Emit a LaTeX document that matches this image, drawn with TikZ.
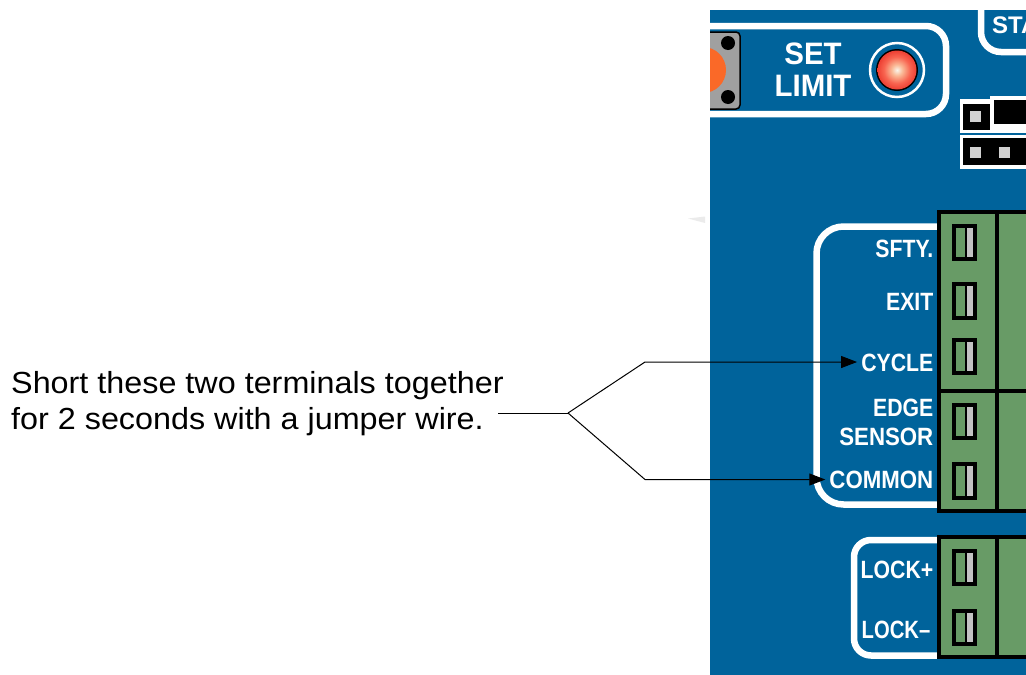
\documentclass[tikz,border=0pt]{standalone}
\usepackage{fontspec}
\setmainfont{Liberation Sans}
\newfontfamily\lblfont[FakeStretch=0.85]{Liberation Sans}
\newfontfamily\lblwfont[FakeStretch=0.89]{Liberation Sans}
\newfontfamily\lblnfont[FakeStretch=0.81]{Liberation Sans}
\newfontfamily\bigfont[FakeStretch=0.95]{Liberation Sans}
\newfontfamily\notefont[FakeStretch=1.06]{Liberation Sans}
\usetikzlibrary{arrows.meta}
\definecolor{panel}{RGB}{0,99,155}
\definecolor{plug}{RGB}{104,155,102}
\definecolor{pincol}{RGB}{195,195,195}
\definecolor{btngray}{RGB}{160,160,160}
\definecolor{btnorange}{RGB}{250,105,40}
\definecolor{ledA}{RGB}{250,245,235}
\definecolor{ledB}{RGB}{250,185,150}
\definecolor{ledC}{RGB}{248,100,80}
\definecolor{ledD}{RGB}{232,50,40}
\pgfdeclareradialshading{ledglow}{\pgfpoint{0bp}{0bp}}{
  color(0bp)=(ledA);
  color(7bp)=(ledB);
  color(17bp)=(ledC);
  color(28bp)=(ledD);
  color(50bp)=(ledD)}
\tikzset{
  frameline/.style={draw=white, line width=6.5pt, rounded corners=#1},
  strip/.style={draw=black, line width=4pt, fill=plug},
  slot/.style={draw=black, line width=4pt, fill=plug},
  lbl/.style={font=\lblfont\bfseries\fontsize{25}{25}\selectfont, text=white, anchor=east, inner sep=0.5pt},
  lblw/.style={lbl, font=\lblwfont\bfseries\fontsize{25}{25}\selectfont},
  lbln/.style={lbl, font=\lblnfont\bfseries\fontsize{25}{25}\selectfont},
  bigtxt/.style={font=\bigfont\bfseries\fontsize{31}{31}\selectfont, text=white, align=center, inner sep=0pt},
  note/.style={font=\notefont\fontsize{30.5}{36}\selectfont, align=left, anchor=west, inner sep=0pt},
  leader/.style={draw=black, line width=1pt},
  leadarrow/.style={leader, shorten >=3.5pt, -{Triangle[length=16pt,width=12pt]}}
}
\begin{document}
\begin{tikzpicture}[x=1pt,y=-1pt]
  \useasboundingbox (0,0) rectangle (1026,675);
  \fill[panel] (710,10) rectangle (1026,675);
  \fill[black!8] (688,218.5) -- (705,216.5) -- (705,223) -- cycle;
  \begin{scope}
    \clip (710,10) rectangle (1026,675);
    % set limit
    \draw[frameline=20pt] (690,26) -- (946,26) -- (946,114) -- (690,114);
    \draw[black, line width=1.5pt, fill=btngray, rounded corners=4pt] (690,32) rectangle (740,109);
    \fill[btnorange] (703,70) circle (23);
    \fill[black] (728,43) circle (7) (728,97) circle (7);
    \node[bigtxt] (setlimit) at (813,70) {SET\\[1pt]LIMIT};
    \draw[white, line width=2.5pt] (897,70) circle (27);
    \fill[black] (897,70) circle (21);
    \shade[shading=ledglow] (897,70) circle (19.5);
    % start box
    \draw[frameline=20pt] (981,0) -- (981,52) -- (1040,52);
    \node[bigtxt, font=\bfseries\fontsize{24}{24}\selectfont, anchor=west] (start) at (992,25) {STA};
    % jumpers
    \fill[white] (960,99) rectangle (1030,169);
    \fill[white] (990,96) rectangle (1030,128);
    \fill[panel] (960,132.5) rectangle (1030,134.5);
    \fill[black] (963,104) rectangle (990,130);
    \fill[black] (994,100) rectangle (1030,124);
    \fill[black] (963,138) rectangle (1030,165);
    \fill[white!82!black] (969.5,110.5) rectangle (981,122);
    \foreach \x in {975,1004}
      \fill[white!82!black] (\x-5.5,146.5) rectangle (\x+5.5,157.5);
    % white frames round the labels
    \draw[frameline=27pt] (950,226.5) -- (816.5,226.5) -- (816.5,504.5) -- (950,504.5);
    \draw[frameline=17pt] (950,540) -- (854,540) -- (854,655.5) -- (950,655.5);
    % plugs
    \draw[strip] (939,212) rectangle (1040,391);
    \draw[strip] (939,391) rectangle (1040,511);
    \draw[strip] (939,537) rectangle (1040,657);
    \draw[black, line width=4pt] (996.5,212) -- (996.5,511) (996.5,537) -- (996.5,657);
    \foreach \yt/\yb in {226/259, 284/318, 340/373, 405/438, 464/498, 551/584, 611/644}{
      \draw[slot] (954,\yt) rectangle (974.5,\yb);
      \fill[pincol] (966.5,\yt+2) rectangle (972.5,\yb-2);
      \draw[black, line width=2pt] (966,\yt) -- (966,\yb);
    }
  \end{scope}
  % labels
  \foreach \id/\y/\name/\sty in {sfty/249/SFTY./lbl, exit/302/EXIT/lbl, cycle/363/CYCLE/lbl, edge/408/EDGE/lbl,
      sensor/437/SENSOR/lblw, common/480/COMMON/lblw, lockp/570/LOCK+/lbl}
    \node[\sty] (\id) at (934,\y) {\name};
  \node[lbln] (lockm) at (931,630) {LOCK–};
  % note and leaders
  \node[note] (callout) at (11,404) {Short these two terminals together\\for 2 seconds with a jumper wire.};
  \coordinate (tail) at (498,413);
  \coordinate (fork) at (568,413);
  \coordinate (upbend) at (645,362);
  \coordinate (lowbend) at (645,479.5);
  \draw[leader] (tail) -- (fork);
  \draw[leadarrow, line join=bevel] (fork) -- (upbend) -- (cycle.west |- upbend);
  \draw[leadarrow, line join=bevel] (fork) -- (lowbend) -- (common.west |- lowbend);
\end{tikzpicture}
\end{document}
